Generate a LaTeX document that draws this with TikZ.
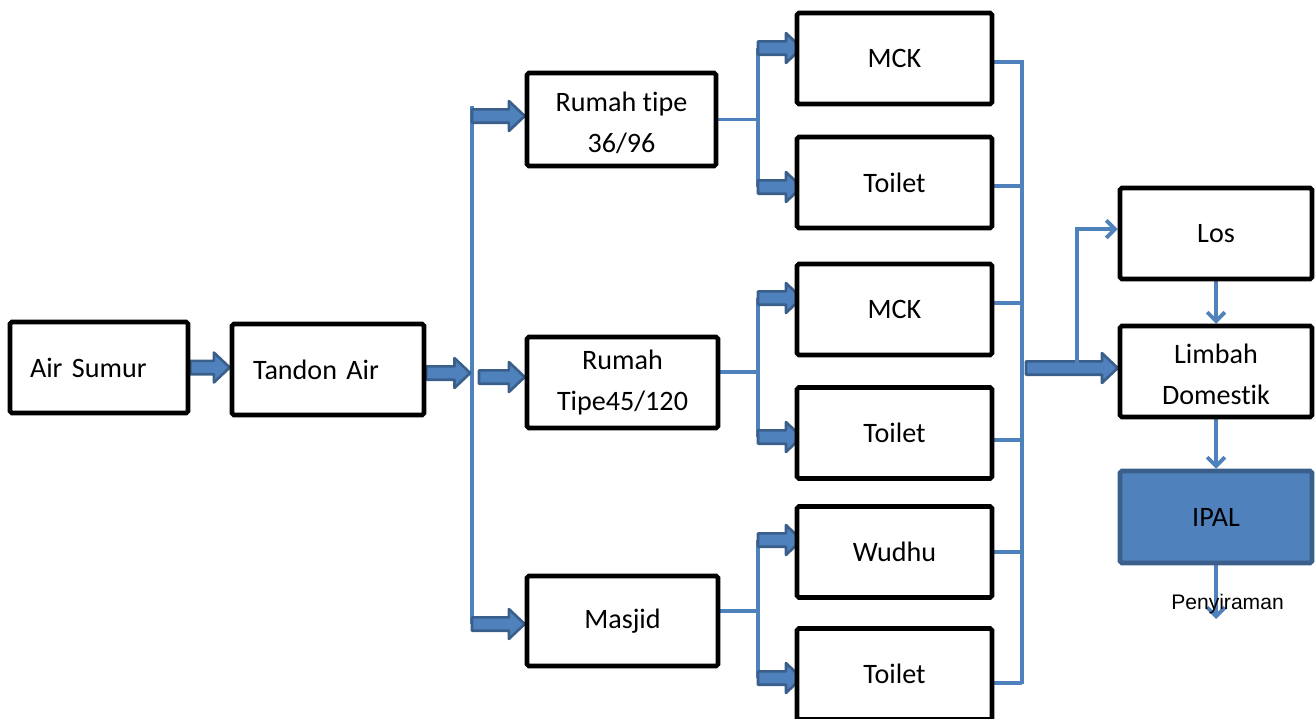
\documentclass[tikz,border=0pt]{standalone}
\usepackage{fontspec}
\setmainfont{Carlito}[Ligatures={NoCommon}]
\newfontfamily\arialfont{Liberation Sans}
\usetikzlibrary{arrows.meta,calc,backgrounds}
\definecolor{B1}{HTML}{4F81BD}
\definecolor{B2}{HTML}{3A5F8B}

\tikzset{
  box/.style={draw=black,line width=2.6pt,rounded corners=1pt,fill=white,
    minimum width=3.9cm,minimum height=1.82cm,align=center,inner sep=0pt,
    font=\fontsize{16}{23.5}\selectfont},
  lbox/.style={box,align=left},
  tank/.style={box,fill=B1,draw=B2},
  pipe/.style={draw=B1,line width=2.2pt},
  pipetip/.style={pipe,-{Straight Barb[length=5pt,width=10pt,line width=2.2pt]}},
  fat/.style={draw=B2,fill=B1,line width=1.5pt,line join=round}
}
% thick block arrow, kept at the height of its start
\newcommand\fatarrow[2]{%
  \draw[fat] let \p1=(#1), \p2=(#2) in
    (\x1,\y1+3.8pt) -- (\x2-9pt,\y1+3.8pt) -- (\x2-9pt,\y1+8.5pt) -- (\x2,\y1)
    -- (\x2-9pt,\y1-8.5pt) -- (\x2-9pt,\y1-3.8pt) -- (\x1,\y1-3.8pt) -- cycle;}

\begin{document}
\begin{tikzpicture}[x=0.02cm,y=-0.02cm]
\useasboundingbox (0,0) rectangle (1315,718);

% sources
\node[lbox,minimum width=3.56cm,text width=2.76cm] (sumur) at (99,367.5) {Air Sumur};
\node[lbox,minimum width=3.84cm,text width=3.0cm] (tandon) at (328,369.5) {Tandon Air};

% users
\node[box,minimum width=3.78cm,minimum height=1.86cm] (rumahA) at (621.5,119.5) {\rule{0pt}{15pt}Rumah tipe\\36/96};
\node[box,minimum width=3.82cm] (rumahB) at (622.5,382.5) {Rumah\\Tipe45/120};
\node[box,minimum width=3.82cm,minimum height=1.8cm] (masjid) at (622.5,621) {Masjid};

% fixtures
\node[box] (mckA) at (894.5,58.5) {MCK};
\node[box] (toiletA) at (894.5,182.5) {Toilet};
\node[box] (mckB) at (894.5,309.5) {MCK};
\node[box] (toiletB) at (894.5,433) {Toilet};
\node[box] (wudhu) at (894.5,552) {Wudhu};
\node[box] (toiletC) at (894.5,674) {Toilet};

% waste side
\node[box,minimum width=3.84cm] (los) at (1216,233.5) {Los};
\node[box,minimum width=3.84cm] (limbah) at (1216,371.5) {\rule{0pt}{14pt}Limbah\\Domestik};
\node[tank,minimum width=3.84cm,minimum height=1.84cm] (ipal) at (1216,517) {IPAL};
\node[font=\arialfont\fontsize{12}{14}\selectfont,inner sep=0pt] (siram) at (1227.5,604) {Penyiraman};

\coordinate (splitT) at (472,106);
\coordinate (splitA) at (472,116);
\coordinate (splitM) at (479,377);
\coordinate (splitB) at (472,624);
\coordinate (hubA1) at (758,48);
\coordinate (hubA2) at (758,187);
\coordinate (hubB1) at (758,298);
\coordinate (hubB2) at (758,437);
\coordinate (hubC1) at (758,540);
\coordinate (hubC2) at (758,678);
\coordinate (sinkB) at (1022,683);
\coordinate (sinkM) at (1026,368);
\coordinate (tee) at (1077,364);
\coordinate (outlet) at (1216,619);

\begin{scope}[on background layer]
  \fatarrow{sumur.east}{tandon.west}
  \draw[pipe] (splitT) -- (splitB);
  \fatarrow{[yshift=-2pt]tandon.east}{[xshift=-1pt]splitT}
  \fatarrow{splitA}{rumahA.west}
  \fatarrow{splitM}{rumahB.west}
  \fatarrow{splitB}{masjid.west}

  \draw[pipe] (rumahA.east) -- (rumahA.east -| hubA1);
  \draw[pipe] (hubA1) -- (hubA2);
  \fatarrow{hubA1}{[xshift=4pt]mckA.west}
  \fatarrow{hubA2}{[xshift=4pt]toiletA.west}

  \draw[pipe] ([yshift=6pt]rumahB.east) -- ([yshift=6pt]rumahB.east -| hubB1);
  \draw[pipe] (hubB1) -- (hubB2);
  \fatarrow{hubB1}{[xshift=4pt]mckB.west}
  \fatarrow{hubB2}{[xshift=4pt]toiletB.west}

  \draw[pipe] ([yshift=5.7pt]masjid.east) -- ([yshift=5.7pt]masjid.east -| hubC1);
  \draw[pipe] (hubC1) -- (hubC2);
  \fatarrow{hubC1}{[xshift=4pt]wudhu.west}
  \fatarrow{hubC2}{[xshift=4pt]toiletC.west}

  \draw[pipe] ([yshift=-2pt]mckA.east) -| (sinkB);
  \draw[pipe] ([yshift=-2pt]toiletA.east) -| (sinkB);
  \draw[pipe] ([yshift=3.7pt]mckB.east) -| (sinkB);
  \draw[pipe] ([yshift=-4pt]toiletB.east) -| (sinkB);
  \draw[pipe] (wudhu.east) -| (sinkB);
  \draw[pipe] ([yshift=-5pt]toiletC.east) -| (sinkB);

  \fatarrow{sinkM}{limbah.west}
  \draw[pipetip] (tee) |- ([yshift=2.5pt]los.west);
  \draw[pipetip] (los.south) -- (limbah.north);
  \draw[pipetip] (limbah.south) -- (ipal.north);
  \draw[pipetip] (ipal.south) -- (outlet);
\end{scope}
\end{tikzpicture}
\end{document}
